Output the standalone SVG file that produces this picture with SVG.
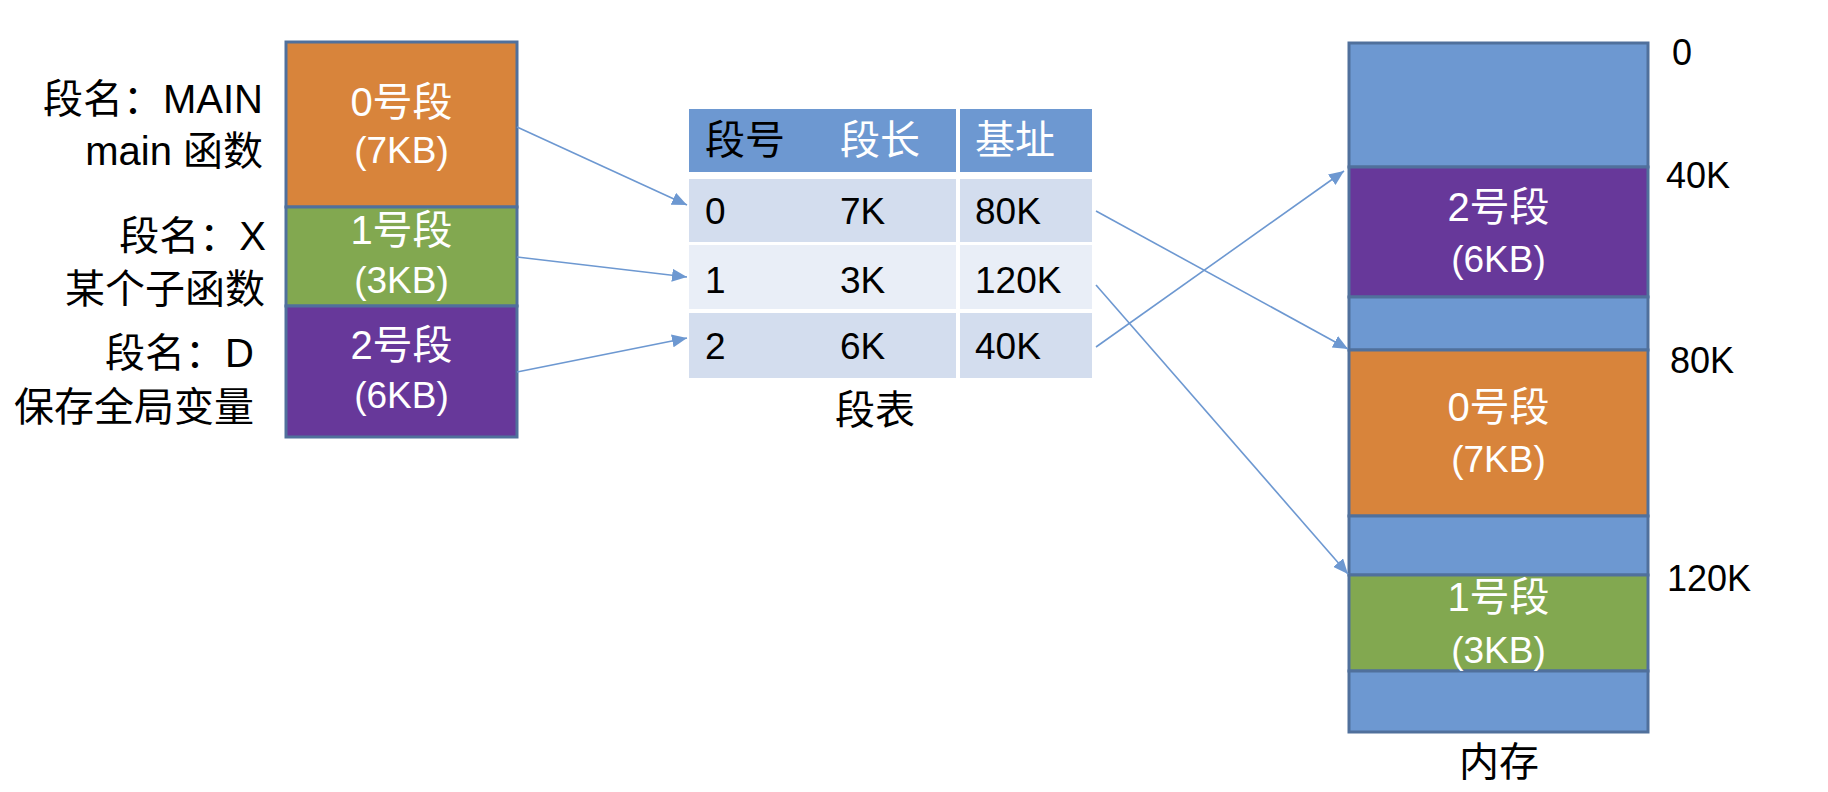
<svg xmlns="http://www.w3.org/2000/svg" width="1828" height="792" viewBox="0 0 1828 792">
<style>
text{font-family:"Liberation Sans","Noto Sans CJK SC",sans-serif;}
.lbl{font-size:40px;fill:#000;text-anchor:end;}
.wc{font-size:40px;fill:#fff;text-anchor:middle;}
.wl{font-size:37px;fill:#fff;text-anchor:middle;}
.cell{font-size:37px;fill:#000;}
.hd{font-size:40px;}
.addr{font-size:36px;fill:#000;}
.cap{font-size:40px;fill:#000;text-anchor:middle;}
.seg{stroke:#50709C;stroke-width:3;}
.conn{stroke:#6D98D1;stroke-width:1.6;fill:none;marker-end:url(#ah);}
</style>
<defs>
<marker id="ah" viewBox="0 0 15 13" refX="15" refY="6.5" markerWidth="15" markerHeight="13" markerUnits="userSpaceOnUse" orient="auto">
<path d="M0,0 L15,6.5 L0,13 Z" fill="#6D98D1"/>
</marker>
</defs>
<rect width="1828" height="792" fill="#fff"/>

<g id="labels-left">
<text class="lbl" x="263" y="113">段名：MAIN</text>
<text class="lbl" x="263" y="165">main 函数</text>
<text class="lbl" x="266" y="250">段名：X</text>
<text class="lbl" x="265" y="303">某个子函数</text>
<text class="lbl" x="254" y="367">段名：D</text>
<text class="lbl" x="254" y="421">保存全局变量</text>
</g>

<g id="program">
<g id="prog-seg0">
<rect class="seg" x="286" y="42" width="231" height="165" fill="#D8843B"/>
<text class="wc" x="401.5" y="116">0号段</text>
<text class="wl" x="401.5" y="163">(7KB)</text>
</g>
<g id="prog-seg1">
<rect class="seg" x="286" y="207" width="231" height="99" fill="#82A850"/>
<text class="wc" x="401.5" y="244">1号段</text>
<text class="wl" x="401.5" y="293">(3KB)</text>
</g>
<g id="prog-seg2">
<rect class="seg" x="286" y="306" width="231" height="131" fill="#67389A"/>
<text class="wc" x="401.5" y="359">2号段</text>
<text class="wl" x="401.5" y="408">(6KB)</text>
</g>
</g>

<g id="segment-table">
<rect x="689" y="109" width="133" height="63" fill="#6D98D1"/>
<rect x="822" y="109" width="134" height="63" fill="#6D98D1"/>
<rect x="960" y="109" width="132" height="63" fill="#6D98D1"/>
<rect x="689" y="179" width="133" height="63" fill="#D3DDEE"/>
<rect x="822" y="179" width="134" height="63" fill="#D3DDEE"/>
<rect x="960" y="179" width="132" height="63" fill="#D3DDEE"/>
<rect x="689" y="245" width="133" height="64" fill="#E9EEF7"/>
<rect x="822" y="245" width="134" height="64" fill="#E9EEF7"/>
<rect x="960" y="245" width="132" height="64" fill="#E9EEF7"/>
<rect x="689" y="313" width="133" height="65" fill="#D3DDEE"/>
<rect x="822" y="313" width="134" height="65" fill="#D3DDEE"/>
<rect x="960" y="313" width="132" height="65" fill="#D3DDEE"/>
<text class="hd" x="705" y="154" fill="#000">段号</text>
<text class="hd" x="840" y="154" fill="#fff">段长</text>
<text class="hd" x="975" y="154" fill="#fff">基址</text>
<text class="cell" x="705" y="224">0</text>
<text class="cell" x="840" y="224">7K</text>
<text class="cell" x="975" y="224">80K</text>
<text class="cell" x="705" y="293">1</text>
<text class="cell" x="840" y="293">3K</text>
<text class="cell" x="975" y="293">120K</text>
<text class="cell" x="705" y="359">2</text>
<text class="cell" x="840" y="359">6K</text>
<text class="cell" x="975" y="359">40K</text>
<text class="cap" x="875" y="424">段表</text>
</g>

<g id="memory">
<rect class="seg" x="1349" y="43" width="299" height="124" fill="#6D98D1"/>
<rect class="seg" x="1349" y="167" width="299" height="130" fill="#67389A"/>
<rect class="seg" x="1349" y="297" width="299" height="53" fill="#6D98D1"/>
<rect class="seg" x="1349" y="350" width="299" height="166" fill="#D8843B"/>
<rect class="seg" x="1349" y="516" width="299" height="59" fill="#6D98D1"/>
<rect class="seg" x="1349" y="575" width="299" height="96" fill="#82A850"/>
<rect class="seg" x="1349" y="671" width="299" height="61" fill="#6D98D1"/>
<text class="wc" x="1498.5" y="221">2号段</text>
<text class="wl" x="1498.5" y="272">(6KB)</text>
<text class="wc" x="1498.5" y="421">0号段</text>
<text class="wl" x="1498.5" y="472">(7KB)</text>
<text class="wc" x="1498.5" y="611">1号段</text>
<text class="wl" x="1498.5" y="663">(3KB)</text>
<text class="addr" x="1672" y="65">0</text>
<text class="addr" x="1666" y="188">40K</text>
<text class="addr" x="1670" y="373">80K</text>
<text class="addr" x="1667" y="591">120K</text>
<text class="cap" x="1499" y="776">内存</text>
</g>

<g id="connectors">
<line class="conn" x1="517" y1="127" x2="687" y2="205"/>
<line class="conn" x1="517" y1="257" x2="687" y2="277"/>
<line class="conn" x1="517" y1="372" x2="687" y2="338"/>
<line class="conn" x1="1096" y1="211" x2="1348" y2="349"/>
<line class="conn" x1="1096" y1="285" x2="1348" y2="574"/>
<line class="conn" x1="1096" y1="347" x2="1344" y2="171"/>
</g>
</svg>
